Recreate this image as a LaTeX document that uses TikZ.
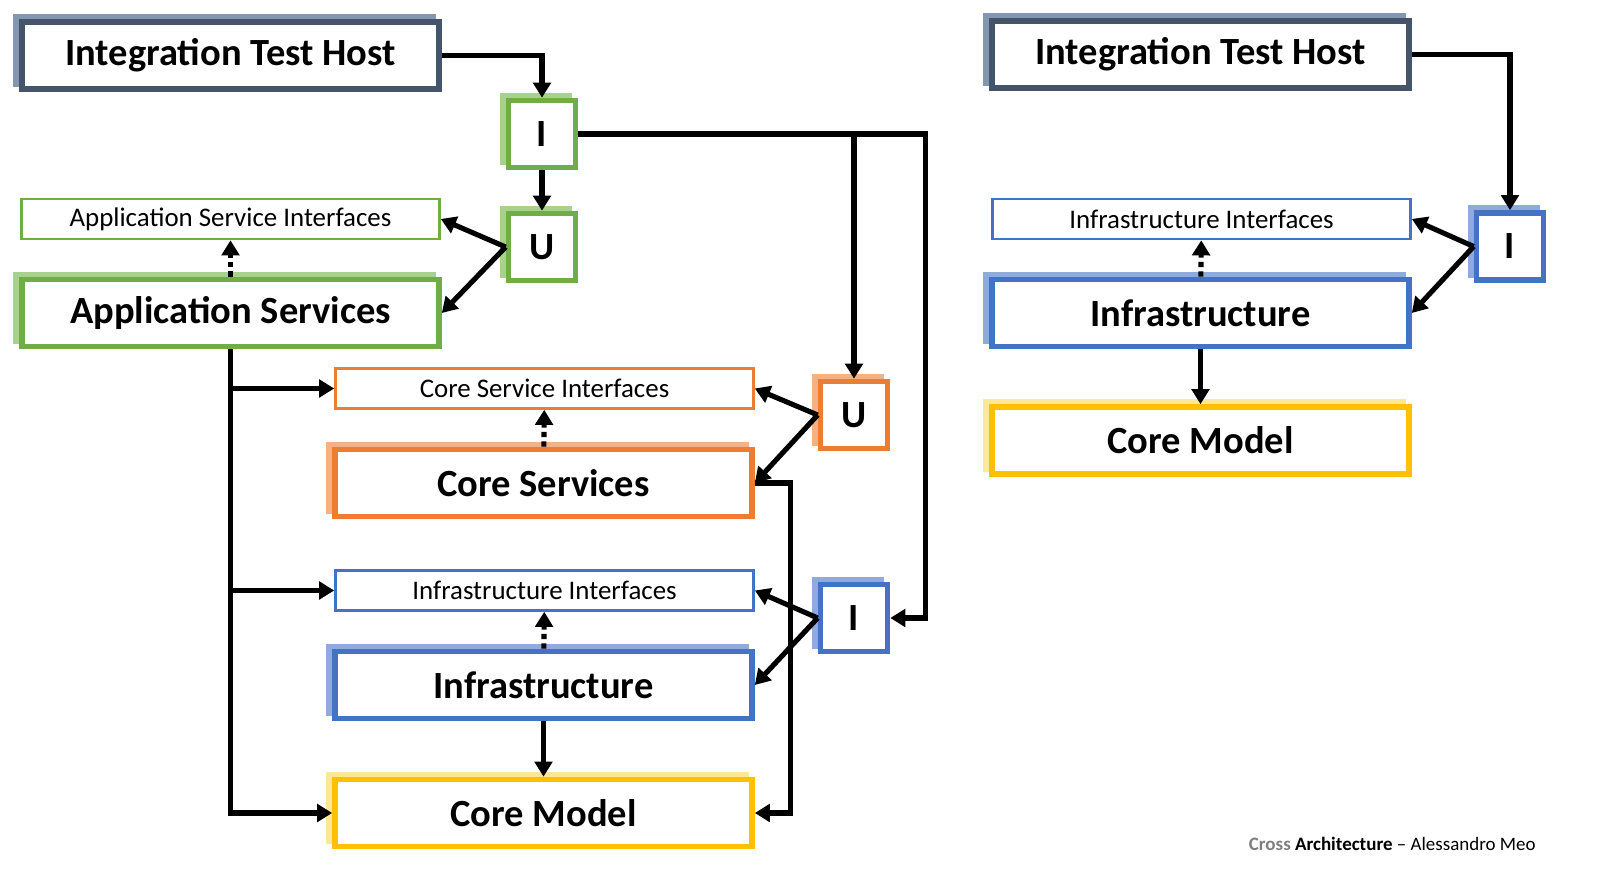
\documentclass[tikz,border=0pt]{standalone}
\usepackage{fontspec}
\setmainfont{Carlito}
\usetikzlibrary{arrows.meta,shadows}

\definecolor{slate}{HTML}{44546A}
\definecolor{slatelt}{HTML}{8497B0}
\definecolor{grn}{HTML}{70AD47}
\definecolor{grnlt}{HTML}{A9D18E}
\definecolor{orng}{HTML}{ED7D31}
\definecolor{orndlt}{HTML}{F4B183}
\definecolor{blu}{HTML}{4472C4}
\definecolor{blult}{HTML}{8FAADC}
\definecolor{yel}{HTML}{FFC000}
\definecolor{yellt}{HTML}{FFE699}

\begin{document}
\begin{tikzpicture}[
    shade/.style={general shadow={shadow xshift=-0.06cm,shadow yshift=0.05cm,draw=#1,fill=#1,line width=1.6pt}},
    layer/.style={draw=#1,fill=white,line width=1.6pt,minimum width=4.17cm,minimum height=0.67cm,inner sep=0pt,font=\fontsize{10.95}{12}\selectfont\bfseries},
    iface/.style={draw=#1,fill=white,line width=0.75pt,minimum width=4.18cm,minimum height=0.40cm,inner sep=0pt,font=\fontsize{7.65}{9}\selectfont},
    port/.style={draw=#1,fill=white,line width=1.6pt,minimum width=0.67cm,minimum height=0.67cm,inner sep=0pt,font=\fontsize{10.95}{12}\selectfont\bfseries},
    conn/.style={line width=1.45pt,-{Triangle[length=4.3pt,width=5pt]}},
    weak/.style={conn,dash pattern=on 1.5pt off 1.2pt}
]
    \useasboundingbox (0,0) rectangle (16.18,8.95);

    % left: application host
    \node[layer=slate,shade=slatelt] (ithL) at (2.305,8.395) {Integration Test Host};
    \node[port=grn,shade=grnlt] (iG) at (5.42,7.61) {I};
    \node[port=grn,shade=grnlt] (uG) at (5.42,6.48) {U};
    \node[iface=grn] (asi) at (2.305,6.76) {Application Service Interfaces};
    \node[layer=grn,shade=grnlt] (as) at (2.305,5.82) {Application Services};

    \node[iface=orng] (csi) at (5.445,5.065) {Core Service Interfaces};
    \node[layer=orng,shade=orndlt] (cs) at (5.435,4.12) {Core Services};
    \node[port=orng,shade=orndlt] (uO) at (8.54,4.80) {U};

    \node[iface=blu] (iiL) at (5.445,3.045) {Infrastructure Interfaces};
    \node[layer=blu,shade=blult] (inL) at (5.435,2.10) {Infrastructure};
    \node[port=blu,shade=blult] (iBL) at (8.54,2.77) {I};

    \node[layer=yel,shade=yellt] (cmL) at (5.435,0.82) {Core Model};

    % right: infrastructure host
    \node[layer=slate,shade=slatelt] (ithR) at (12.005,8.405) {Integration Test Host};
    \node[iface=blu] (iiR) at (12.015,6.76) {Infrastructure Interfaces};
    \node[layer=blu,shade=blult] (inR) at (12.005,5.82) {Infrastructure};
    \node[layer=yel,shade=yellt] (cmR) at (12.005,4.545) {Core Model};
    \node[port=blu,shade=blult] (iBR) at (15.10,6.485) {I};

    \node[anchor=east,font=\fontsize{5.4}{6}\selectfont] (credit) at (15.48,0.51)
        {\textcolor{gray}{\bfseries Cross} \textbf{Architecture} -- Alessandro Meo};

    % left connectors
    \draw[conn] (ithL.east) -| (iG.north);
    \draw[conn] (iG) -- (uG);
    \draw[conn] (iG.east) -| ([xshift=0.35cm]iBL.east) -- (iBL.east);
    \draw[conn] (iG.east -| uO) -- (uO.north);

    \draw[conn] (uG.west) -- (asi.east);
    \draw[conn] (uG.west) -- (as.east);
    \draw[conn] (uO.west) -- (csi.east);
    \draw[conn] (uO.west) -- (cs.east);
    \draw[conn] (iBL.west) -- (iiL.east);
    \draw[conn] (iBL.west) -- (inL.east);

    \draw[weak] (as) -- (asi);
    \draw[weak] (cs) -- (csi);
    \draw[weak] (inL) -- (iiL);

    \draw[conn] (inL) -- (cmL);
    \draw[conn] (as.south) |- (cmL.west);
    \draw[conn] (as.south |- csi.west) -- (csi.west);
    \draw[conn] (as.south |- iiL.west) -- (iiL.west);
    \draw[conn] (cs.east) -| ([xshift=0.36cm]cmL.east) -- (cmL.east);

    % right connectors
    \draw[conn] (ithR.east) -| (iBR.north);
    \draw[conn] (iBR.west) -- (iiR.east);
    \draw[conn] (iBR.west) -- (inR.east);
    \draw[weak] (inR) -- (iiR);
    \draw[conn] (inR) -- (cmR);

\end{tikzpicture}
\end{document}
